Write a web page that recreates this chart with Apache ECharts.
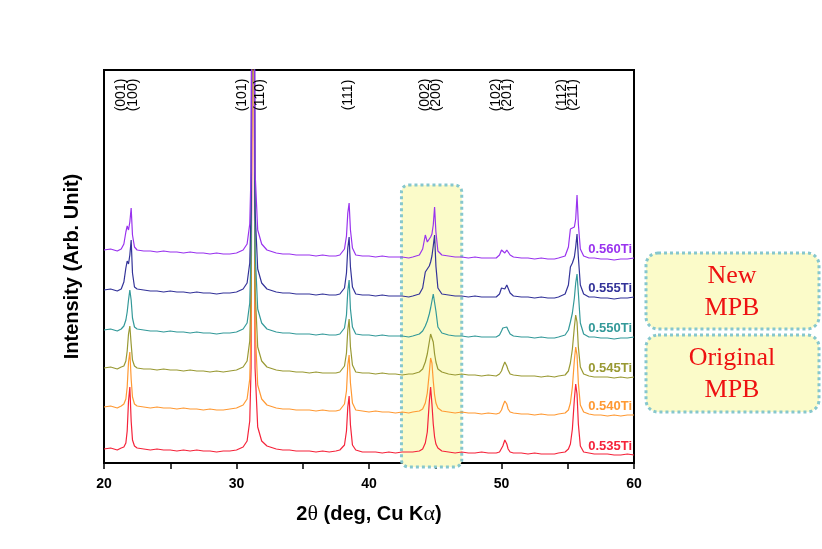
<!DOCTYPE html>
<html><head><meta charset="utf-8">
<script src="https://cdn.jsdelivr.net/npm/echarts/dist/echarts.min.js"></script>
<style>html,body{margin:0;padding:0;background:#fff}#c{width:822px;height:549px}</style>
</head><body><div id="c"></div>
<script>
// ---------- DATA ----------
const twoTheta = [
  20,20.5,21,21.3,21.5,21.65,21.75,21.85,21.95,22.05,22.15,22.3,22.5,
  23,23.5,24,24.5,25,25.5,26,26.5,27,27.5,28,28.5,29,29.5,
  30,30.5,30.8,31.0,31.1,31.18,31.25,31.32,31.4,31.6,31.9,32.3,
  33,33.5,34,34.5,35,35.5,36,36.5,37,37.5,37.8,
  38.15,38.3,38.4,38.5,38.6,38.75,39,39.5,
  40,40.5,41,41.5,42,42.5,43,43.3,
  43.8,44.05,44.25,44.4,44.55,44.65,44.75,44.85,44.95,45.05,45.2,45.5,
  46,46.5,47,47.5,48,48.5,49,49.6,
  49.85,50.0,50.1,50.25,50.4,50.5,50.65,50.9,
  51.5,52,52.5,53,53.5,54,54.3,
  54.8,55.05,55.2,55.35,55.5,55.6,55.7,55.8,55.95,56.2,56.6,
  57,57.5,58,58.5,59,59.5,60
];
const I_0535 = [
  14,15,13,15,16,20,32,62,76,42,23,17,15,
  14,13,14,13,13,12,13,12,13,12,12,11,12,12,
  13,16,22,42,95,420,800,420,95,36,22,17,
  14,13,13,12,12,12,11,12,11,12,13,
  18,32,56,67,38,18,13,11,
  11,11,10,11,10,11,11,11,
  12,14,20,31,61,76,59,39,26,19,15,12,
  11,10,11,10,10,11,10,10,
  11,13,17,23,19,14,11,10,
  10,9,10,9,9,9,10,
  11,14,19,34,64,79,69,39,17,11,10,
  9,9,9,8,8,9,8
];
const I_0540 = [
  56,57,55,57,59,64,76,101,111,84,66,59,57,
  56,55,56,55,55,54,55,54,54,53,54,53,53,54,
  55,58,64,84,137,460,840,460,137,78,64,58,
  55,54,54,53,53,53,52,53,52,52,53,
  59,72,98,108,80,60,53,52,
  51,52,51,51,50,51,50,51,
  52,54,60,70,90,105,100,82,68,60,55,52,
  51,50,51,50,50,49,50,49,
  50,53,57,62,59,54,51,50,
  49,49,48,49,48,48,49,
  50,53,60,76,103,116,108,80,58,51,49,
  48,48,47,48,47,48,48
];
const I_0545 = [
  95,96,94,96,97,102,112,129,137,119,103,97,95,
  94,94,93,94,93,93,92,93,92,92,91,92,91,92,
  93,96,102,122,175,500,880,500,175,116,102,96,
  93,92,92,91,91,90,91,90,90,90,91,
  97,110,133,144,116,98,91,90,
  90,89,90,89,89,88,89,89,
  91,94,101,109,121,129,130,121,109,101,94,91,
  89,88,89,88,88,87,88,87,
  89,92,96,101,97,93,89,88,
  87,87,87,86,87,86,87,
  88,92,100,114,136,148,141,116,96,89,87,
  86,86,86,85,86,85,86
];
const I_0550 = [
  133,134,132,134,137,143,151,163,173,163,145,136,134,
  133,132,132,131,132,131,131,130,131,130,130,129,130,130,
  131,134,140,160,213,540,920,540,213,154,140,134,
  131,130,130,129,129,129,128,129,128,128,129,
  135,148,172,183,154,136,129,128,
  128,127,128,127,127,127,126,127,
  129,132,137,142,149,155,162,169,168,152,136,130,
  128,127,127,126,127,126,126,126,
  128,132,135,136,136,133,129,127,
  126,126,125,126,125,125,126,
  128,133,141,150,165,180,189,170,140,129,126,
  126,125,125,124,125,125,126
];
const I_0555 = [
  173,174,172,174,181,195,202,199,208,223,190,176,174,
  173,172,172,171,172,171,171,170,171,170,170,169,170,170,
  171,174,180,200,253,580,960,580,253,194,180,174,
  171,170,170,169,169,169,168,169,168,168,169,
  175,190,215,226,196,176,169,168,
  168,167,168,167,167,167,166,167,
  169,175,191,194,197,201,207,217,228,197,175,169,
  168,167,167,166,167,166,166,166,
  169,175,176,174,178,177,170,167,
  166,166,165,166,165,165,166,
  169,178,196,200,206,216,229,206,178,169,166,
  166,165,165,164,165,165,166
];
const I_0560 = [
  213,214,212,214,219,231,237,233,241,255,228,216,213,
  212,212,211,212,211,211,210,211,210,210,209,210,209,209,
  210,213,219,239,292,620,1000,620,292,233,219,213,
  210,209,209,208,208,208,207,208,207,207,208,
  214,227,250,260,233,215,208,207,
  207,206,207,206,206,206,205,206,
  208,214,228,221,223,226,229,238,256,231,212,208,
  207,206,206,205,206,205,205,205,
  208,213,213,210,213,213,208,206,
  205,205,204,205,204,204,205,
  207,216,234,232,236,244,268,239,214,207,205,
  205,204,204,203,204,204,205
];
const sampleNames = ['0.535Ti','0.540Ti','0.545Ti','0.550Ti','0.555Ti','0.560Ti'];
const sampleValues = [I_0535, I_0540, I_0545, I_0550, I_0555, I_0560];
const hklLabels = ['(001)','(100)','(101)','(110)','(111)','(002)','(200)','(102)','(201)','(112)','(211)'];
const hklAt = [21.29, 22.19, 30.43, 31.8, 38.45, 44.2, 45.1, 49.57, 50.4, 54.56, 55.39];
const xTickLabels = [20, 30, 40, 50, 60];
const mpbRange = [42.45, 47.0];     // 2θ span of the highlighted (002)/(200) region
const mpbTop = 278;                 // intensity level of the highlight's top
const noteTexts = [['New','MPB'], ['Original','MPB']];

// ---------- STYLE ----------
const colors = ['#F5233A','#FF9933','#999933','#339999','#333399','#9933EE'];
const SANS = '"Liberation Sans", Arial, sans-serif';
const SERIF = '"Liberation Serif", "Times New Roman", serif';

const chart = echarts.init(document.getElementById('c'), null, {renderer: 'canvas'});
const option = {
  animation: false,
  backgroundColor: '#fff',
  grid: {left: 104, right: 188, top: 70, bottom: 86, show: true, borderColor: '#000', borderWidth: 2,
         backgroundColor: 'transparent', outerBoundsMode: 'none'},
  xAxis: {
    type: 'value', min: xTickLabels[0], max: xTickLabels[xTickLabels.length - 1], interval: 10,
    axisLine: {lineStyle: {color: '#000', width: 2}},
    axisTick: {show: true, length: 6, lineStyle: {color: '#000', width: 1.5}},
    minorTick: {show: true, splitNumber: 2, length: 6, lineStyle: {color: '#000', width: 1.5}},
    splitLine: {show: false}, minorSplitLine: {show: false},
    axisLabel: {color: '#000', fontFamily: SANS, fontWeight: 'bold', fontSize: 14, margin: 14,
                formatter: v => xTickLabels.includes(v) ? String(v) : ''},
    name: '{b|2}{s|θ}{b| (deg, Cu K}{s|α}{b|)}',
    nameLocation: 'middle', nameGap: 40, nameMoveOverlap: false,
    nameTextStyle: {
      rich: {
        b: {fontFamily: SANS, fontWeight: 'bold', fontSize: 20, color: '#000'},
        s: {fontFamily: SERIF, fontWeight: 'normal', fontSize: 22, color: '#000'}
      }
    }
  },
  yAxis: {
    type: 'value', min: 0, max: 393,
    axisLine: {show: true, lineStyle: {color: '#000', width: 2}},
    axisTick: {show: false}, axisLabel: {show: false}, splitLine: {show: false},
    name: 'Intensity (Arb. Unit)', nameLocation: 'middle', nameGap: 22, nameMoveOverlap: false,
    nameTextStyle: {fontFamily: SANS, fontWeight: 'bold', fontSize: 20, color: '#000'}
  },
  series: sampleValues.map((arr, i) => ({
    name: sampleNames[i], type: 'line', showSymbol: false, clip: true, z: 2 + i,
    lineStyle: {color: colors[i], width: 1.2}, itemStyle: {color: colors[i]},
    data: twoTheta.map((x, j) => [x, arr[j]])
  }))
};
chart.setOption(option);

const px = (x, y) => chart.convertToPixel({gridIndex: 0}, [x, y]);
const g = [];
// highlighted MPB region inside the plot
const a = px(mpbRange[0], mpbTop), b = px(mpbRange[1], 0);
g.push({type: 'rect', z: 1, shape: {x: a[0], y: a[1], width: b[0] - a[0], height: b[1] - a[1] + 4, r: 7},
        style: {fill: '#FBFBC9', stroke: '#86C7CD', lineWidth: 3, lineDash: [3, 3]}});
// Miller index labels
const topPix = px(20, 393)[1];
hklLabels.forEach((t, i) => {
  const p = px(hklAt[i], 0);
  g.push({type: 'text', z: 20, x: p[0], y: topPix + 25, rotation: Math.PI / 2,
          style: {text: t, font: '14px ' + SANS, fill: '#000', align: 'center', verticalAlign: 'middle'}});
});
// sample labels at the right end of each trace
sampleValues.forEach((arr, i) => {
  const p = px(60, arr[arr.length - 1]);
  g.push({type: 'text', z: 20, x: p[0] - 2, y: p[1] - 9,
          style: {text: sampleNames[i], font: 'bold 13px ' + SANS, fill: colors[i], align: 'right', verticalAlign: 'middle'}});
});
// annotation boxes on the right
const boxes = [{y: 253, h: 76}, {y: 335, h: 77}];
boxes.forEach((bx, i) => {
  g.push({type: 'rect', z: 1, shape: {x: 646, y: bx.y, width: 173, height: bx.h, r: 12},
          style: {fill: '#FBFBC9', stroke: '#86C7CD', lineWidth: 3, lineDash: [3, 3]}});
  g.push({type: 'text', z: 20, x: 732, y: bx.y + bx.h / 2 + 1,
          style: {text: noteTexts[i].join('\n'), font: '26px ' + SERIF, fill: '#EE1111',
                  align: 'center', verticalAlign: 'middle', lineHeight: 32}});
});
chart.setOption({graphic: g});
</script>
</body></html>
